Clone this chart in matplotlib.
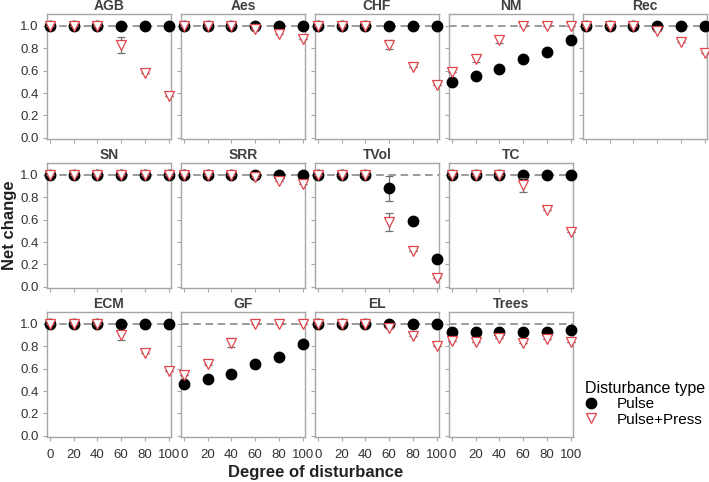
import numpy as np
import matplotlib.pyplot as plt
from matplotlib.lines import Line2D

plt.rcParams['font.family'] = ['Liberation Sans', 'DejaVu Sans']

x = [0, 20, 40, 60, 80, 100]
panels = ["AGB", "Aes", "CHF", "NM", "Rec",
          "SN", "SRR", "TVol", "TC",
          "ECM", "GF", "EL", "Trees"]

# Pulse means / errors
pulse = {
    "AGB": [1, 1, 1, 1, 1, 1],
    "Aes": [1, 1, 1, 1, 1, 1],
    "CHF": [1, 1, 1, 1, 1, 1],
    "NM": [0.50, 0.555, 0.61, 0.70, 0.765, 0.875],
    "Rec": [1, 1, 1, 1, 1, 1],
    "SN": [1, 1, 1, 1, 1, 1],
    "SRR": [1, 1, 1, 1, 1, 1],
    "TVol": [1, 1, 1, 0.88, 0.59, 0.25],
    "TC": [1, 1, 1, 1, 1, 1],
    "ECM": [1, 1, 1, 1, 1, 1],
    "GF": [0.46, 0.51, 0.555, 0.638, 0.70, 0.82],
    "EL": [1, 1, 1, 1, 1, 1],
    "Trees": [0.93, 0.925, 0.93, 0.93, 0.93, 0.94],
}
pulse_err = {
    "TVol": [0, 0, 0, 0.11, 0, 0],
}
# Pulse+Press means / errors
press = {
    "AGB": [1, 1, 1, 0.83, 0.58, 0.37],
    "Aes": [1, 1, 1, 0.97, 0.93, 0.88],
    "CHF": [1, 1, 1, 0.83, 0.63, 0.47],
    "NM": [0.59, 0.70, 0.875, 1, 1, 1],
    "Rec": [1, 1, 1, 0.95, 0.855, 0.756],
    "SN": [1, 1, 1, 1, 1, 1],
    "SRR": [1, 1, 1, 0.98, 0.946, 0.917],
    "TVol": [1, 1, 1, 0.58, 0.32, 0.075],
    "TC": [1, 1, 1, 0.91, 0.685, 0.49],
    "ECM": [1, 1, 1, 0.896, 0.738, 0.58],
    "GF": [0.543, 0.644, 0.83, 1, 1, 1],
    "EL": [1, 1, 1, 0.96, 0.89, 0.80],
    "Trees": [0.85, 0.836, 0.87, 0.83, 0.86, 0.84],
}
press_err = {
    "AGB": [0, 0, 0, 0.07, 0, 0],
    "CHF": [0, 0, 0, 0.04, 0, 0],
    "NM": [0, 0.02, 0.03, 0, 0, 0],
    "TVol": [0, 0, 0, 0.08, 0, 0],
    "TC": [0, 0, 0, 0.06, 0, 0],
    "ECM": [0, 0, 0, 0.04, 0, 0],
    "GF": [0, 0.01, 0.04, 0, 0, 0],
}

W, H = 709, 482
fig = plt.figure(figsize=(W / 100, H / 100), dpi=100)

col_left = [47, 181, 315, 449, 583]
row_top = [14, 163, 312]
pw, ph = 124, 125
layout = [(0, 0), (0, 1), (0, 2), (0, 3), (0, 4),
          (1, 0), (1, 1), (1, 2), (1, 3),
          (2, 0), (2, 1), (2, 2), (2, 3)]

red = '#e0454c'
gray = '#a6a6a6'
txt = '#333333'

for name, (r, c) in zip(panels, layout):
    ax = fig.add_axes([col_left[c] / W, 1 - (row_top[r] + ph) / H, pw / W, ph / H])
    ax.axhline(1.0, color='#808080', lw=1.1, ls=(0, (5, 3)), zorder=1)
    pe = pulse_err.get(name, [0] * 6)
    ax.errorbar(x, pulse[name], yerr=pe, fmt='o', ms=7.5, mfc='black', mec='black',
                ecolor='#707070', elinewidth=0.9, capsize=3, capthick=0.9, zorder=3,
                clip_on=False)
    qe = press_err.get(name, [0] * 6)
    ax.errorbar(x, press[name], yerr=qe, fmt='v', ms=7.5, mfc='white', mec=red, mew=0.9,
                ecolor='#707070', elinewidth=0.9, capsize=3, capthick=0.9, zorder=4,
                clip_on=False)
    ax.set_xlim(-2.5, 102)
    ax.set_ylim(-0.01, 1.105)
    ax.set_xticks(x)
    ax.set_yticks([0, 0.2, 0.4, 0.6, 0.8, 1.0])
    ax.set_title(name, fontsize=10, fontweight='bold', color='#404040', pad=3)
    for s in ax.spines.values():
        s.set_color(gray)
        s.set_linewidth(1.0)
    ax.tick_params(length=3, color=gray, labelsize=9.5, labelcolor=txt, pad=3)
    if c == 0:
        ax.set_yticklabels(['0.0', '0.2', '0.4', '0.6', '0.8', '1.0'])
    else:
        ax.set_yticklabels([])
    if r == 2:
        ax.set_xticklabels([str(v) for v in x])
        ax.tick_params(axis='x', pad=6)
    else:
        ax.set_xticklabels([])

fig.text(10 / W, 1 - 225 / H, 'Net change', rotation=90, ha='center', va='center',
         fontsize=12, fontweight='bold', color='#222222')
fig.text(316 / W, 1 - 472 / H, 'Degree of disturbance', ha='center', va='center',
         fontsize=12, fontweight='bold', color='#222222')

handles = [
    Line2D([], [], ls='none', marker='o', ms=7.5, mfc='black', mec='black'),
    Line2D([], [], ls='none', marker='v', ms=7.5, mfc='white', mec=red, mew=0.9),
]
fig.legend(handles, ['Pulse', 'Pulse+Press'], title='Disturbance type',
           loc='upper left', bbox_to_anchor=(574 / W, 1 - 370 / H), frameon=False,
           fontsize=11, title_fontsize=11.5, alignment='left', handletextpad=1.3,
           labelspacing=0.1, borderpad=0.2, handlelength=0.8)

fig.savefig('out.png', dpi=100)
